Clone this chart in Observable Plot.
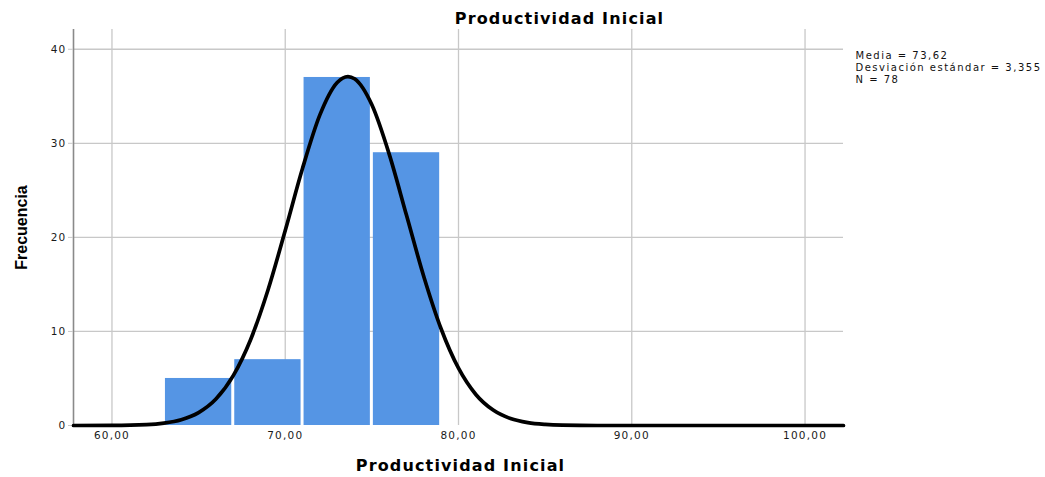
<!DOCTYPE html>
<html>
<head>
<meta charset="utf-8">
<script src="https://cdn.jsdelivr.net/npm/d3@7"></script>
<script src="https://cdn.jsdelivr.net/npm/@observablehq/plot@0.6"></script>
<style>
  html, body { margin: 0; padding: 0; background: #fff; }
  #chart svg { display: block; }
</style>
</head>
<body>
<div id="chart"></div>
<script>
// Histogram bins (Productividad Inicial) and frequencies
const binStart = [63, 67, 71, 75];
const binEnd   = [67, 71, 75, 79];
const freq     = [5, 7, 37, 29];

// Normal curve (x value, frequency)
const curveX = [57.78, 60, 62, 63, 64, 65, 66, 67, 68, 69, 70, 71, 72, 73, 73.62, 74, 75, 76, 77, 78, 79, 80, 81, 82, 83, 84, 85, 86, 88, 90, 95, 102.22];
const curveY = [0, 0.01, 0.09, 0.25, 0.61, 1.37, 2.81, 5.30, 9.12, 14.38, 20.73, 27.35, 33.02, 36.47, 37.10, 36.86, 34.09, 28.85, 22.34, 15.82, 10.26, 6.09, 3.30, 1.64, 0.74, 0.31, 0.12, 0.04, 0, 0, 0, 0];

// Axes
const xDomain = [57.78, 102.22];
const yDomain = [0, 42.1];
const xTicks = [60, 70, 80, 90, 100];
const xTickLabels = ["60,00", "70,00", "80,00", "90,00", "100,00"];
const yTicks = [0, 10, 20, 30, 40];
const yGrid = [10, 20, 30, 40];

const titleText = "Productividad Inicial";
const xLabel = "Productividad Inicial";
const yLabel = "Frecuencia";
const statsText = ["Media = 73,62", "Desviación estándar = 3,355", "N = 78"];

const bars = binStart.map((s, i) => ({x1: s, x2: binEnd[i], y: freq[i]}));
const curve = curveX.map((x, i) => ({x, y: curveY[i]}));

const gridColor = "#c8c8c8";

const plot = Plot.plot({
  width: 1045,
  height: 477,
  marginLeft: 73,
  marginRight: 202,
  marginTop: 29,
  marginBottom: 52,
  style: {fontFamily: "DejaVu Sans", background: "#fff", color: "#1a1a1a"},
  x: {domain: xDomain},
  y: {domain: yDomain},
  marks: [
    Plot.gridX(xTicks, {stroke: gridColor, strokeOpacity: 1, strokeWidth: 1.3}),
    Plot.gridY(yGrid, {stroke: gridColor, strokeOpacity: 1, strokeWidth: 1.3}),
    Plot.rectY(bars, {x1: "x1", x2: "x2", y: "y", fill: "#5595e4", insetLeft: 1.5, insetRight: 1.5}),
    Plot.ruleX([xDomain[0]], {stroke: "#8a8a8a", strokeWidth: 1.6}),
    Plot.axisY(yTicks, {tickSize: 5, tickPadding: 2, fontSize: 10.5, stroke: gridColor, label: null}),
    Plot.axisX(xTicks, {tickSize: 0, tickPadding: 6, fontSize: 10.5, tickFormat: (d) => xTickLabels[xTicks.indexOf(d)], label: null}),
    Plot.line(curve, {x: "x", y: "y", stroke: "#000", strokeWidth: 3.7, curve: "monotone-x"}),
    Plot.text([titleText], {frameAnchor: "top", textAnchor: "middle", lineAnchor: "middle", dx: 101, dy: -10.8, fontSize: 16, fontWeight: "bold", fill: "#000"}),
    Plot.text([xLabel], {frameAnchor: "bottom", textAnchor: "middle", lineAnchor: "middle", dx: 2, dy: 40, fontSize: 16, fontWeight: "bold", fill: "#000"}),
    Plot.text([yLabel], {frameAnchor: "left", textAnchor: "middle", lineAnchor: "middle", rotate: -90, dx: -52, fontSize: 16, fontWeight: "bold", fontFamily: "Liberation Sans", fill: "#000"}),
    Plot.text([statsText.join("\n")], {frameAnchor: "top-right", textAnchor: "start", lineAnchor: "top", dx: 12, dy: 21.5, fontSize: 10, lineHeight: 1.18, fill: "#111"})
  ]
});

// Horizontal widening of glyphs as in the original rendering
plot.querySelectorAll("text").forEach(t => {
  const s = t.textContent;
  if (s === titleText) t.style.letterSpacing = "1.15px";
  else if (statsText.some(l => s.includes(l))) t.style.letterSpacing = "1.5px";
  else if (s !== yLabel) t.style.letterSpacing = "1.2px";
});

document.getElementById("chart").appendChild(plot);
</script>
</body>
</html>
